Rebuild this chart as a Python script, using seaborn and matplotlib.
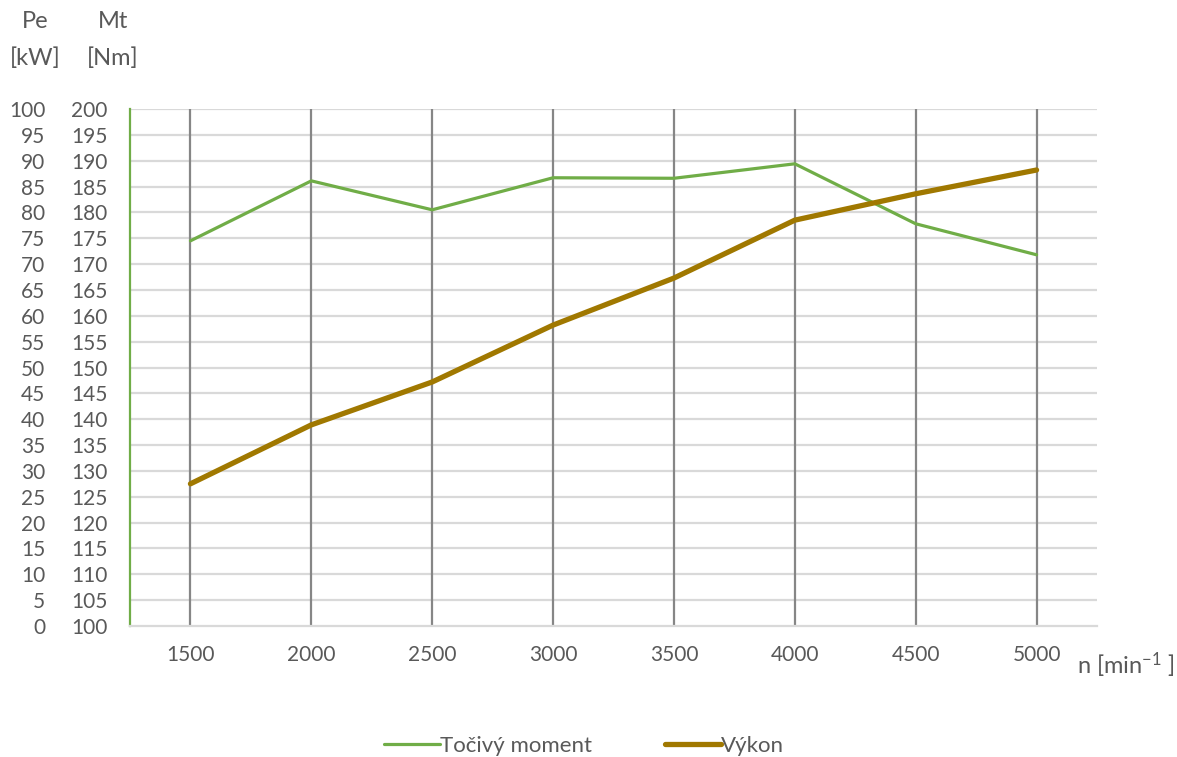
import matplotlib
matplotlib.use("Agg")
import matplotlib.pyplot as plt
import seaborn as sns
import pandas as pd

# Data
rpm = ["1500", "2000", "2500", "3000", "3500", "4000", "4500", "5000"]
torque_nm = [174.5, 186.1, 180.5, 186.7, 186.6, 189.4, 177.8, 171.8]
power_kw = [27.5, 38.9, 47.2, 58.2, 67.3, 78.5, 83.6, 88.2]
mt_ticks = list(range(100, 201, 5))
pe_ticks = list(range(0, 101, 5))

sns.set_theme(style="white")
plt.rcParams['font.family'] = ['Lato', 'DejaVu Sans']
plt.rcParams['mathtext.fontset'] = 'custom'
plt.rcParams['mathtext.rm'] = 'Lato'
plt.rcParams['mathtext.it'] = 'Lato'

TXT = "#595959"
GREEN = "#70AD47"
BROWN = "#A07800"
FS = 15
FT = 17

df = pd.DataFrame({"n": rpm, "Mt": torque_nm, "Pe": power_kw})

fig = plt.figure(figsize=(11.77, 7.57), dpi=100)
ax = fig.add_axes([130/1177, 1-626/757, (1097-130)/1177, (626-109)/757])
ax2 = ax.twinx()

sns.lineplot(data=df, x="n", y="Mt", ax=ax, color=GREEN, linewidth=2.3,
             sort=False, label="Točivý moment", legend=False)
sns.lineplot(data=df, x="n", y="Pe", ax=ax2, color=BROWN, linewidth=3.8,
             sort=False, label="Výkon", legend=False, solid_capstyle="round")

ax.set_xlim(-0.5, len(rpm) - 0.5)
ax.set_ylim(100, 200)
ax2.set_ylim(0, 100)
ax.set_yticks(mt_ticks)
ax2.set_yticks(pe_ticks)

# Grid
for y in mt_ticks[1:]:
    ax.axhline(y, color="#D9D9D9", linewidth=1.6, zorder=0)
for i in range(len(rpm)):
    ax.axvline(i, color="#868686", linewidth=1.6, zorder=0.5)

ax2.patch.set_visible(False)

for a in (ax, ax2):
    for s in a.spines.values():
        s.set_visible(False)
ax.spines['left'].set_visible(True)
ax.spines['left'].set_color(GREEN)
ax.spines['left'].set_linewidth(1.6)
ax.spines['bottom'].set_visible(True)
ax.spines['bottom'].set_color("#D9D9D9")
ax.spines['bottom'].set_linewidth(1.6)

ax.set_xlabel("")
ax.set_ylabel("")
ax2.set_ylabel("")
ax.tick_params(axis='y', length=0, pad=16, labelsize=FS, labelcolor=TXT)
ax.tick_params(axis='x', length=0, pad=14, labelsize=FS, labelcolor=TXT)
ax2.yaxis.tick_left()
ax2.tick_params(axis='y', length=0, pad=61, labelsize=FS, labelcolor=TXT,
                left=False, right=False, labelleft=True, labelright=False)

# Axis titles
fig.text(35/1177, 1-21/757, "Pe", ha="center", va="center", fontsize=FT, color=TXT)
fig.text(35/1177, 1-58/757, "[kW]", ha="center", va="center", fontsize=FT, color=TXT)
fig.text(113/1177, 1-21/757, "Mt", ha="center", va="center", fontsize=FT, color=TXT)
fig.text(113/1177, 1-58/757, "[Nm]", ha="center", va="center", fontsize=FT, color=TXT)
fig.text(1077/1177, 1-665/757, r"n [min$^{-1}$ ]", ha="left", va="center", fontsize=FT, color=TXT)

# Legend
h1, l1 = ax.get_legend_handles_labels()
h2, l2 = ax2.get_legend_handles_labels()
leg = fig.legend(h1 + h2, l1 + l2, loc="center", bbox_to_anchor=(584/1177, 1-746/757),
                 ncol=2, frameon=False, fontsize=16, handlelength=2.5,
                 handletextpad=0.0, columnspacing=3.3)
for t in leg.get_texts():
    t.set_color(TXT)

fig.savefig("out.png", dpi=100)
